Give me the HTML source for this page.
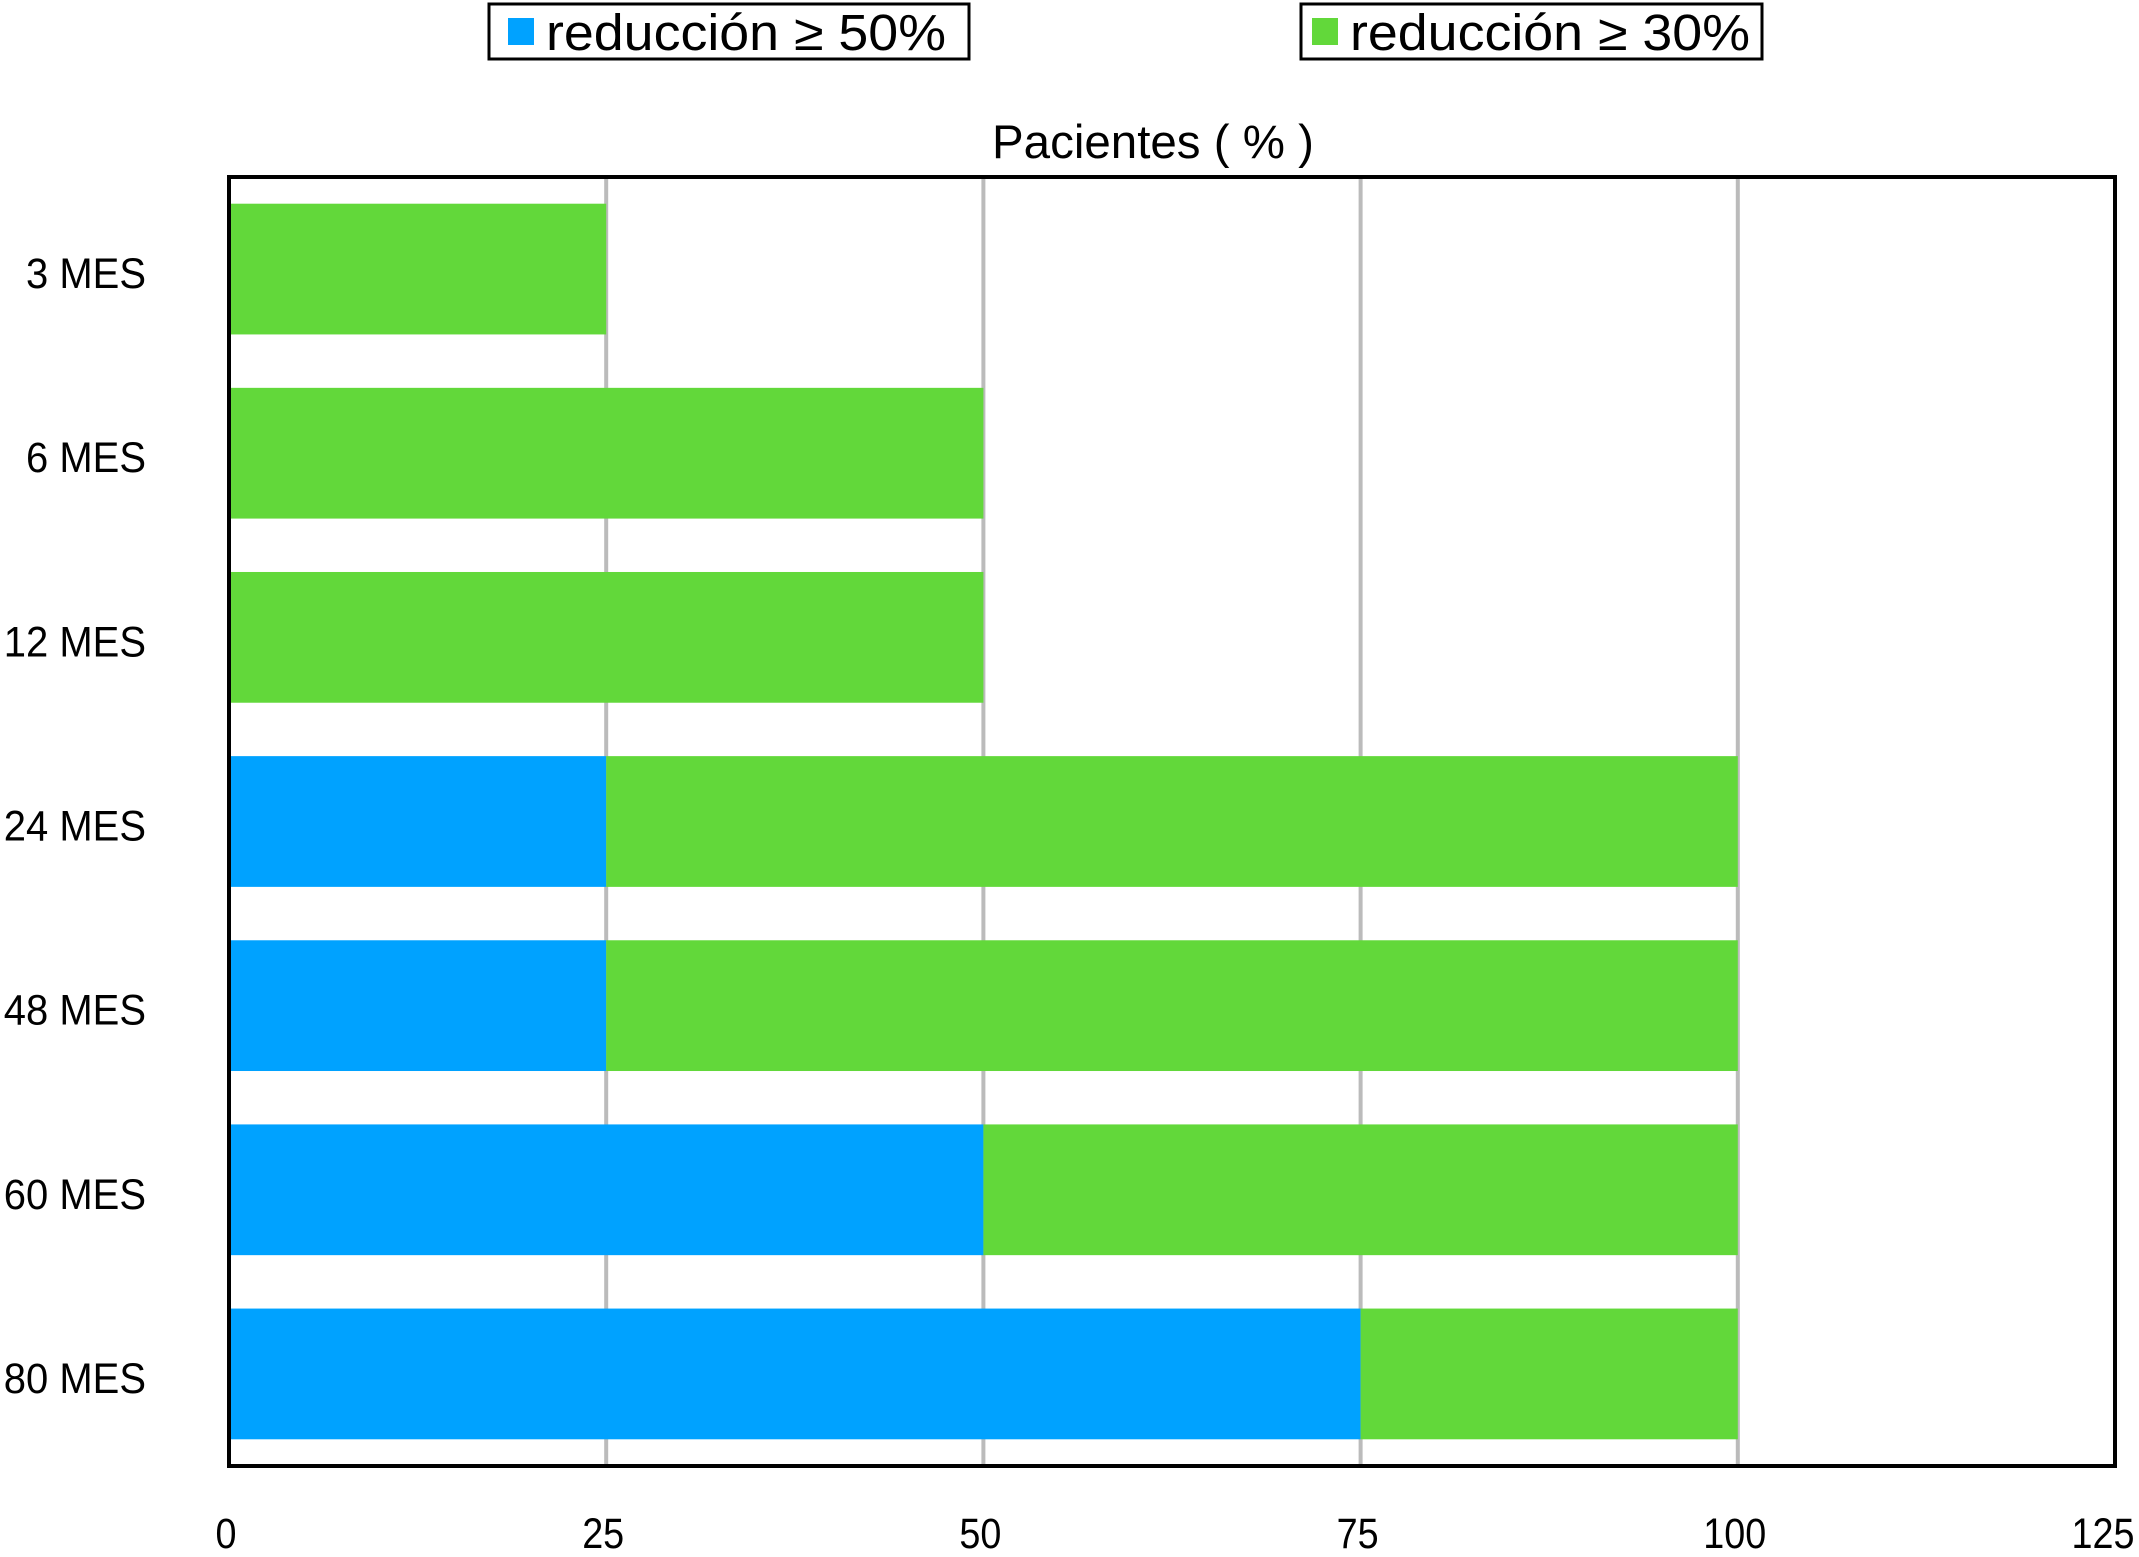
<!DOCTYPE html>
<html><head><meta charset="utf-8"><style>
html,body{margin:0;padding:0;background:#fff}
svg{display:block;font-family:"Liberation Sans",sans-serif}
</style></head><body>
<svg id="chart" width="2139" height="1557" viewBox="0 0 2139 1557" xmlns="http://www.w3.org/2000/svg">
<g>
<rect x="489" y="4" width="480" height="55" fill="#fff" stroke="#000" stroke-width="3"/>
<rect x="508" y="18" width="26" height="27" fill="#00a2ff"/>
<text x="546" y="50" font-size="51" textLength="400" lengthAdjust="spacingAndGlyphs">reducción ≥ 50%</text>
<rect x="1301" y="4" width="461" height="55" fill="#fff" stroke="#000" stroke-width="3"/>
<rect x="1312" y="18" width="26" height="27" fill="#62d83a"/>
<text x="1350" y="50" font-size="51" textLength="400" lengthAdjust="spacingAndGlyphs">reducción ≥ 30%</text>
</g>
<text x="1153" y="158" font-size="47" text-anchor="middle" textLength="322" lengthAdjust="spacingAndGlyphs">Pacientes ( % )</text>
<g id="grid"></g>
<g id="bars"></g>
<rect x="229" y="177" width="1886" height="1289" fill="none" stroke="#000" stroke-width="4"/>
<g id="xticks"></g>
<g id="ycats" transform="scale(0.93,1)"></g>
</svg>
<script>
const categories = ["3 MES","6 MES","12 MES","24 MES","48 MES","60 MES","80 MES"];
const reduction50 = [0,0,0,25,25,50,75];
const reduction30 = [25,50,50,75,75,50,25];
const xTicks = [0,25,50,75,100,125];

const NS="http://www.w3.org/2000/svg";
const L=229,R=2115,T=177,B=1466,XMAX=125;
const x=v=>L+(v/XMAX)*(R-L);
const band=(B-T)/categories.length;
const y=i=>T+i*band;
const bh=band*0.71;
function mk(tag,attrs,parent){const e=document.createElementNS(NS,tag);for(const k in attrs)e.setAttribute(k,attrs[k]);parent.appendChild(e);return e;}
const grid=document.getElementById('grid'),bars=document.getElementById('bars'),xt=document.getElementById('xticks'),yc=document.getElementById('ycats');
xTicks.forEach(t=>{
  if(t>0&&t<XMAX){const g=mk('line',{x1:x(t),x2:x(t),y1:T,y2:B,stroke:'#bbb','stroke-width':4},grid);
  
  }
  const px=Math.min(x(t)-3,2136-String(t).length*11);
  const tx=mk('text',{x:px,y:1548,'font-size':43,'text-anchor':'middle',textLength:String(t).length*21,lengthAdjust:'spacingAndGlyphs'},xt);
  tx.textContent=t;
  
  
});
categories.forEach((c,i)=>{
  const y0=y(i)+(band-bh)/2;
  if(reduction50[i]>0){const b=mk('rect',{x:x(0),y:y0,width:x(reduction50[i])-x(0),height:bh,fill:'#00a2ff'},bars);
  
  }
  const g=mk('rect',{x:x(reduction50[i]),y:y0,width:x(reduction50[i]+reduction30[i])-x(reduction50[i]),height:bh,fill:'#62d83a'},bars);
  
  
  const t=mk('text',{x:146/0.93,y:y(i)+band/2+19,'font-size':43,'text-anchor':'end'},yc);
  t.textContent=c;
  
  
});
</script>
</body></html>
